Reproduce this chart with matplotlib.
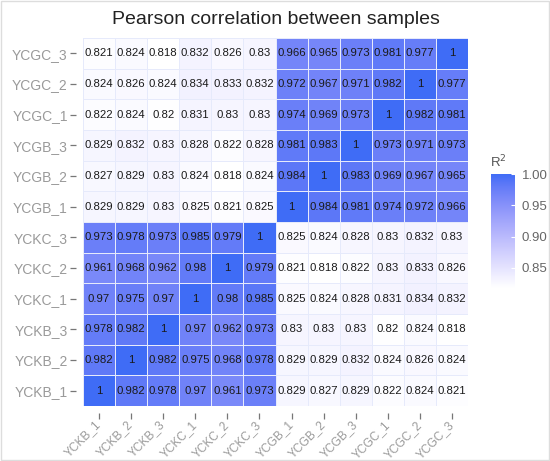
import numpy as np
import matplotlib.pyplot as plt
from matplotlib.colors import ListedColormap, to_rgb

plt.rcParams['font.family'] = ['Liberation Sans', 'DejaVu Sans']

samples = ["YCKB_1", "YCKB_2", "YCKB_3", "YCKC_1", "YCKC_2", "YCKC_3",
           "YCGB_1", "YCGB_2", "YCGB_3", "YCGC_1", "YCGC_2", "YCGC_3"]

# rows listed bottom (YCKB_1) to top (YCGC_3), columns in samples order
r_ckb1 = [1, 0.982, 0.978, 0.97, 0.961, 0.973, 0.829, 0.827, 0.829, 0.822, 0.824, 0.821]
r_ckb2 = [0.982, 1, 0.982, 0.975, 0.968, 0.978, 0.829, 0.829, 0.832, 0.824, 0.826, 0.824]
r_ckb3 = [0.978, 0.982, 1, 0.97, 0.962, 0.973, 0.83, 0.83, 0.83, 0.82, 0.824, 0.818]
r_ckc1 = [0.97, 0.975, 0.97, 1, 0.98, 0.985, 0.825, 0.824, 0.828, 0.831, 0.834, 0.832]
r_ckc2 = [0.961, 0.968, 0.962, 0.98, 1, 0.979, 0.821, 0.818, 0.822, 0.83, 0.833, 0.826]
r_ckc3 = [0.973, 0.978, 0.973, 0.985, 0.979, 1, 0.825, 0.824, 0.828, 0.83, 0.832, 0.83]
r_cgb1 = [0.829, 0.829, 0.83, 0.825, 0.821, 0.825, 1, 0.984, 0.981, 0.974, 0.972, 0.966]
r_cgb2 = [0.827, 0.829, 0.83, 0.824, 0.818, 0.824, 0.984, 1, 0.983, 0.969, 0.967, 0.965]
r_cgb3 = [0.829, 0.832, 0.83, 0.828, 0.822, 0.828, 0.981, 0.983, 1, 0.973, 0.971, 0.973]
r_cgc1 = [0.822, 0.824, 0.82, 0.831, 0.83, 0.83, 0.974, 0.969, 0.973, 1, 0.982, 0.981]
r_cgc2 = [0.824, 0.826, 0.824, 0.834, 0.833, 0.832, 0.972, 0.967, 0.971, 0.982, 1, 0.977]
r_cgc3 = [0.821, 0.824, 0.818, 0.832, 0.826, 0.83, 0.966, 0.965, 0.973, 0.981, 0.977, 1]

mat = np.array([r_ckb1, r_ckb2, r_ckb3, r_ckc1, r_ckc2, r_ckc3,
                r_cgb1, r_cgb2, r_cgb3, r_cgc1, r_cgc2, r_cgc3])


# white -> blue gradient interpolated in Lab space (like ggplot's scale_fill_gradient)
def srgb_to_lab(c):
    c = np.array(c)
    lin = np.where(c <= 0.04045, c / 12.92, ((c + 0.055) / 1.055) ** 2.4)
    M = np.array([[0.4124, 0.3576, 0.1805], [0.2126, 0.7152, 0.0722], [0.0193, 0.1192, 0.9505]])
    xyz = M @ lin / np.array([0.95047, 1.0, 1.08883])
    f = np.where(xyz > 0.008856, np.cbrt(xyz), 7.787 * xyz + 16 / 116)
    return np.array([116 * f[1] - 16, 500 * (f[0] - f[1]), 200 * (f[1] - f[2])])


def lab_to_srgb(lab):
    L, a, b = lab
    fy = (L + 16) / 116
    fx = fy + a / 500
    fz = fy - b / 200
    f = np.array([fx, fy, fz])
    xyz = np.where(f ** 3 > 0.008856, f ** 3, (f - 16 / 116) / 7.787) * np.array([0.95047, 1.0, 1.08883])
    Minv = np.array([[3.2406, -1.5372, -0.4986], [-0.9689, 1.8758, 0.0415], [0.0557, -0.2040, 1.0570]])
    lin = Minv @ xyz
    c = np.where(lin <= 0.0031308, 12.92 * lin, 1.055 * np.clip(lin, 0, None) ** (1 / 2.4) - 0.055)
    return np.clip(c, 0, 1)


lo = srgb_to_lab(to_rgb("#FFFFFF"))
hi = srgb_to_lab(to_rgb("#3F6CF6"))
cmap = ListedColormap([lab_to_srgb(lo + t * (hi - lo)) for t in np.linspace(0, 1, 256)])

fig = plt.figure(figsize=(5.5, 4.61), dpi=100)
ax = fig.add_axes([83 / 550, 1 - 406 / 461, 385 / 550, 368 / 461])
n = len(samples)
mesh = ax.pcolormesh(np.arange(n + 1), np.arange(n + 1), mat, cmap=cmap,
                     vmin=mat.min(), vmax=1.0, edgecolors="#E6EAFB", linewidth=0.6)
for i in range(n):
    for j in range(n):
        v = mat[i, j]
        txt = "1" if v == 1 else f"{v:g}"
        ax.text(j + 0.5, i + 0.5, txt, ha="center", va="center",
                fontsize=8.2, color="#1a1a1a")

for s in ax.spines.values():
    s.set_visible(False)
ax.spines["bottom"].set_position(("outward", 5))
ax.spines["left"].set_position(("outward", 5))

ax.set_xlim(0, n)
ax.set_ylim(0, n)
ax.set_xticks(np.arange(n) + 0.5)
ax.set_yticks(np.arange(n) + 0.5)
ax.set_xticklabels(samples, rotation=45, ha="right", va="center", rotation_mode="anchor",
                   fontsize=8.6, color="#9a9a9a")
ax.set_yticklabels(samples, fontsize=10, color="#9a9a9a")
ax.tick_params(axis="both", length=4, color="#777777", width=0.9, pad=2)
ax.tick_params(axis="x", pad=3)

fig.text(276 / 550, 1 - 20 / 461, "Pearson correlation between samples",
         ha="center", va="center", fontsize=14, color="#222222")

cax = fig.add_axes([491 / 550, 1 - 288 / 461, 24 / 550, 114 / 461])
cb = fig.colorbar(mesh, cax=cax, ticks=[0.85, 0.90, 0.95, 1.00])
cb.outline.set_visible(False)
cb.ax.tick_params(length=3, color="white", labelsize=9.5, labelcolor="#666666", direction="in", pad=5)
cb.ax.set_yticklabels(["0.85", "0.90", "0.95", "1.00"])
fig.text(490 / 550, 1 - 162 / 461, "R$^2$", fontsize=9.5, color="#555555", va="center")

# light frame round the picture
fig.patches.append(plt.Rectangle((0.002, 0.002), 0.996, 0.996, transform=fig.transFigure,
                                 fill=False, edgecolor="#dddddd", linewidth=1))

fig.savefig("out.png", dpi=100)
